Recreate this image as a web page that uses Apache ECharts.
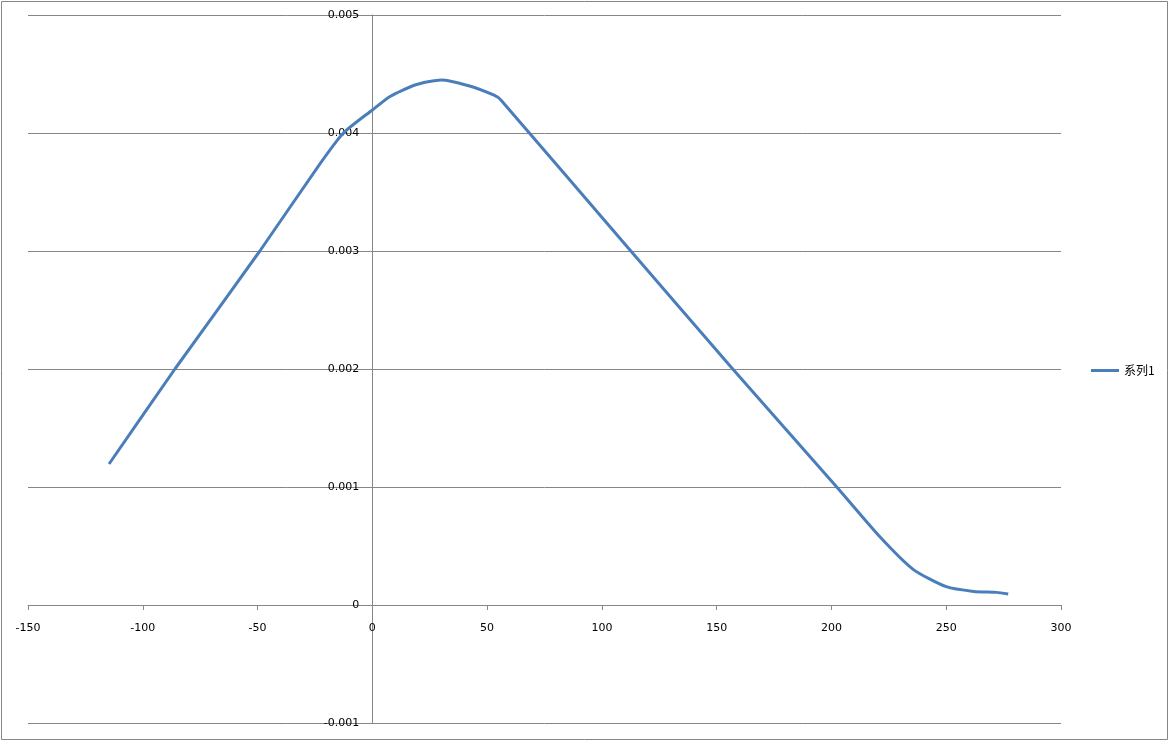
<!DOCTYPE html>
<html>
<head>
<meta charset="utf-8">
<script src="https://cdn.jsdelivr.net/npm/echarts@6/dist/echarts.min.js"></script>
<style>
html,body{margin:0;padding:0;background:#fff;}
#chart{width:1170px;height:741px;}
</style>
</head>
<body>
<div id="chart"></div>
<script>
// Data
const seriesName = '系列1';
const xValues = [-114.7, -86, -49, -23.5, -12.6, 0, 7.7, 18.6, 30, 42, 53, 56, 112.6, 157, 202.3, 221, 235.7, 250, 262, 272, 277];
const yValues = [0.001195, 0.002, 0.003, 0.00372, 0.004, 0.004195, 0.00431, 0.004407, 0.00445, 0.0044, 0.00432, 0.00428, 0.003, 0.002, 0.001, 0.00058, 0.0003, 0.000155, 0.000115, 0.000107, 0.000093];
const xTicks = { min: -150, max: 300, interval: 50 };
const yTicks = { min: -0.001, max: 0.005, interval: 0.001 };

const points = xValues.map((x, i) => [x, yValues[i]]);
const gray = '#868686';
const fontFam = 'DejaVu Sans';
const W = 1170, H = 741;
const gridBox = { left: 28, right: 109, top: 15, bottom: 18 };

const chart = echarts.init(document.getElementById('chart'), null, { renderer: 'canvas' });
const option = {
  animation: false,
  backgroundColor: '#fff',
  graphic: [{
    type: 'rect',
    shape: { x: 1.5, y: 1.5, width: 1166, height: 738 },
    style: { fill: 'none', stroke: gray, lineWidth: 1 },
    silent: true
  }],
  grid: Object.assign({ containLabel: false, outerBoundsMode: 'none' }, gridBox),
  legend: {
    data: [seriesName],
    left: 1091,
    top: 'middle',
    padding: 0,
    orient: 'vertical',
    icon: 'rect',
    itemWidth: 28,
    itemHeight: 3,
    itemGap: 4,
    textStyle: { fontFamily: 'Noto Sans CJK SC', fontSize: 12, color: '#000' }
  },
  xAxis: {
    type: 'value',
    min: xTicks.min, max: xTicks.max, interval: xTicks.interval,
    position: 'bottom',
    axisLine: { show: true, onZero: false, lineStyle: { color: gray, width: 1 } },
    axisTick: { show: true, length: 5, lineStyle: { color: gray } },
    axisLabel: { color: '#000', fontFamily: fontFam, fontSize: 11, margin: 18 },
    splitLine: { show: false }
  },
  yAxis: {
    type: 'value',
    min: yTicks.min, max: yTicks.max, interval: yTicks.interval,
    position: 'left',
    axisLine: { show: true, onZero: false, lineStyle: { color: gray, width: 1 } },
    axisTick: { show: false },
    axisLabel: {
      color: '#000', fontFamily: fontFam, fontSize: 11, margin: 13,
      formatter: v => {
        const r = Math.round(v * 1000) / 1000;
        return r === 0 ? '0' : r.toFixed(3);
      }
    },
    splitLine: { show: true, lineStyle: { color: gray, width: 1 } }
  },
  series: [{
    name: seriesName,
    type: 'line',
    data: points,
    smooth: 0.2,
    showSymbol: false,
    symbol: 'none',
    lineStyle: { color: '#4a7ebb', width: 3 },
    itemStyle: { color: '#4a7ebb' }
  }]
};
chart.setOption(option);
// Move the axes so they cross at the origin (like the reference)
const p0 = chart.convertToPixel({ gridIndex: 0 }, [0, 0]);
chart.setOption({
  xAxis: { offset: -((H - gridBox.bottom) - p0[1]) },
  yAxis: { offset: -(p0[0] - gridBox.left) }
});
</script>
</body>
</html>
